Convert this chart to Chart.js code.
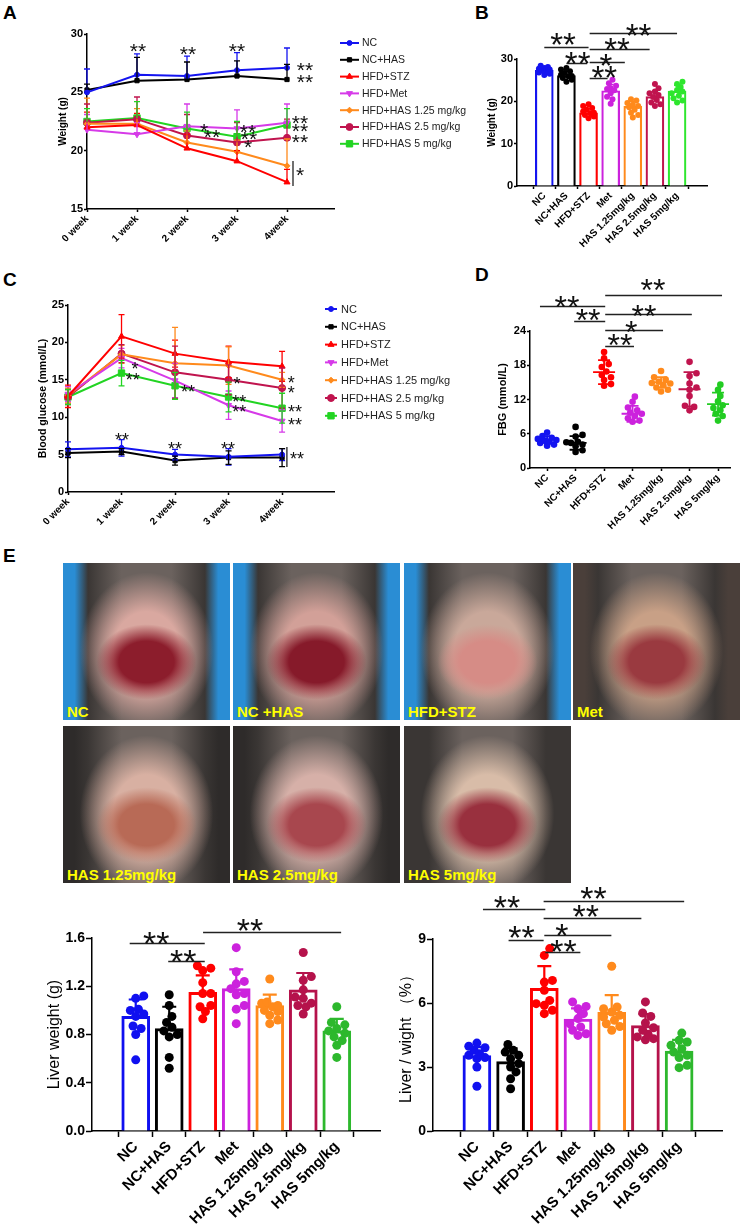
<!DOCTYPE html>
<html>
<head>
<meta charset="utf-8">
<script src="https://cdn.jsdelivr.net/npm/chart.js@4.4.1/dist/chart.umd.min.js"></script>
<style>
  body { margin: 0; background: #fff; }
  #page { position: relative; width: 740px; height: 1226px; overflow: hidden; font-family: "Liberation Sans", Arial, sans-serif; }
  canvas { position: absolute; }
  .tag { position: absolute; font: bold 19px/1 "Liberation Sans", Arial, sans-serif; color: #000; }
  .photo { position: absolute; width: 167px; height: 157px; overflow: hidden;
    background:
      radial-gradient(ellipse 30% 24% at 50% 63%, var(--liver) 0 55%, transparent 100%),
      radial-gradient(ellipse 40% 50% at 50% 56%, var(--open) 0 50%, transparent 100%),
      linear-gradient(90deg, var(--side) 0 7%, #3a3634 15%, #6b625e 35% 65%, #3a3634 85%, var(--side) 93%); }
  .photo span { position: absolute; left: 4px; bottom: 1px; color: #ff0; font: bold 15px/1 "Liberation Sans", Arial, sans-serif; }
</style>
</head>
<body>
<div id="page">
  <div class="tag" style="left:3px;top:2.5px">A</div>
  <div class="tag" style="left:475px;top:2.5px">B</div>
  <div class="tag" style="left:3px;top:269.5px">C</div>
  <div class="tag" style="left:475px;top:264.5px">D</div>
  <div class="tag" style="left:3px;top:545.5px">E</div>

  <div class="photo" style="left:63px;top:563px;--liver:#8c1d2c;--open:#d9a8a0;--side:#2a8dd4"><span>NC</span></div>
  <div class="photo" style="left:233px;top:563px;--liver:#861a2a;--open:#d2a098;--side:#2a8dd4"><span>NC +HAS</span></div>
  <div class="photo" style="left:404px;top:563px;--liver:#d68c86;--open:#c9a89a;--side:#2a8dd4"><span>HFD+STZ</span></div>
  <div class="photo" style="left:573px;top:563px;--liver:#9a3a40;--open:#c8a086;--side:#4a3f3a"><span>Met</span></div>
  <div class="photo" style="left:63px;top:726px;--liver:#b86a56;--open:#d8b0a2;--side:#2e2b2a"><span>HAS 1.25mg/kg</span></div>
  <div class="photo" style="left:233px;top:726px;--liver:#a8474e;--open:#d6b0a8;--side:#2e2b2a"><span>HAS 2.5mg/kg</span></div>
  <div class="photo" style="left:404px;top:726px;--liver:#99303e;--open:#d8bca8;--side:#3a3634"><span>HAS 5mg/kg</span></div>

  <canvas id="chartA" width="480" height="265" style="left:0;top:0"></canvas>
  <canvas id="chartB" width="270" height="265" style="left:470px;top:0"></canvas>
  <canvas id="chartC" width="480" height="280" style="left:0;top:275px"></canvas>
  <canvas id="chartD" width="270" height="280" style="left:470px;top:275px"></canvas>
  <canvas id="chartLW" width="385" height="346" style="left:0;top:880px"></canvas>
  <canvas id="chartLR" width="355" height="346" style="left:385px;top:880px"></canvas>
</div>

<script>
const FF = '"Liberation Sans", Arial, sans-serif';

const weekLabels = ['0 week', '1 week', '2 week', '3 week', '4week'];
const weeks = [0, 1, 2, 3, 4];
const lineNames = ['NC', 'NC+HAS', 'HFD+STZ', 'HFD+Met', 'HFD+HAS 1.25 mg/kg', 'HFD+HAS 2.5 mg/kg', 'HFD+HAS 5 mg/kg'];
const groupLabels = ['NC', 'NC+HAS', 'HFD+STZ', 'Met', 'HAS 1.25mg/kg', 'HAS 2.5mg/kg', 'HAS 5mg/kg'];

// A: body weight (g), mean per week
const wtNC   = [25.0, 26.5, 26.4, 26.9, 27.1];
const wtNCHAS = [25.2, 26.0, 26.1, 26.4, 26.1];
const wtSTZ  = [22.0, 22.2, 20.2, 19.1, 17.3];
const wtMet  = [21.8, 21.4, 22.1, 21.9, 22.4];
const wtH125 = [22.3, 22.3, 20.7, 19.9, 18.7];
const wtH25  = [22.4, 22.7, 21.3, 20.7, 21.1];
const wtH5   = [22.5, 22.8, 21.9, 21.2, 22.2];
// A: SD
const wtSdNC   = [2.0, 1.8, 1.7, 1.5, 1.7];
const wtSdNCHAS = [0.5, 2.0, 1.5, 1.3, 1.3];
const wtSdSTZ  = [1.3, 1.0, 1.2, 0.9, 1.1];
const wtSdMet  = [1.3, 1.0, 1.9, 1.6, 1.6];
const wtSdH125 = [2.2, 1.3, 1.0, 1.0, 2.3];
const wtSdH25  = [1.6, 1.9, 1.8, 1.7, 1.6];
const wtSdH5   = [1.1, 1.4, 1.4, 1.3, 1.4];

// B: body weight (g) per animal at week 4
const bwNC   = [28.4, 28.1, 27.9, 27.7, 27.5, 27.2, 27.1, 26.8, 26.5, 26.2];
const bwNCHAS = [27.9, 27.5, 27.1, 26.7, 26.3, 26.0, 25.9, 25.5, 25.1, 24.6];
const bwSTZ  = [19.3, 18.9, 18.4, 18.0, 17.6, 17.3, 17.2, 16.8, 16.4, 16.0];
const bwMet  = [25.1, 24.3, 23.7, 23.1, 22.9, 22.6, 21.9, 21.1, 20.5, 19.4];
const bwH125 = [20.5, 20.2, 19.6, 19.2, 18.9, 18.6, 18.0, 17.3, 16.8, 16.2];
const bwH25  = [24.1, 23.1, 22.3, 21.9, 21.5, 21.0, 20.3, 19.7, 19.3, 18.9];
const bwH5   = [24.6, 24.1, 23.4, 22.7, 22.3, 21.9, 21.3, 20.7, 20.2, 19.7];
const bwMean = [27.3, 26.1, 17.3, 22.5, 18.8, 21.1, 22.4];
const bwSd   = [0.6, 1.0, 1.0, 1.5, 1.2, 1.3, 1.4];

// C: blood glucose (mmol/L), mean per week
const bgNC   = [5.7, 5.9, 5.0, 4.7, 5.0];
const bgNCHAS = [5.2, 5.4, 4.2, 4.6, 4.6];
const bgSTZ  = [12.8, 20.8, 18.5, 17.4, 16.8];
const bgMet  = [13.1, 17.9, 14.9, 11.6, 9.5];
const bgH125 = [12.9, 18.4, 17.2, 16.9, 15.0];
const bgH25  = [12.7, 18.5, 16.0, 15.0, 13.9];
const bgH5   = [12.7, 15.9, 14.2, 12.7, 11.2];
// C: SD
const bgSdNC   = [1.0, 1.1, 0.7, 1.1, 0.8];
const bgSdNCHAS = [0.6, 0.4, 0.6, 0.9, 1.2];
const bgSdSTZ  = [1.5, 2.9, 1.8, 2.1, 2.0];
const bgSdMet  = [1.0, 1.3, 2.3, 1.9, 1.5];
const bgSdH125 = [1.0, 1.2, 4.8, 2.5, 1.0];
const bgSdH25  = [1.0, 1.2, 3.5, 2.0, 2.7];
const bgSdH5   = [1.0, 1.7, 1.8, 2.0, 2.0];

// D: fasting blood glucose (mmol/L) per animal
const fbgNC   = [6.2, 5.6, 5.3, 5.1, 4.9, 4.8, 4.6, 4.4, 4.1, 3.9];
const fbgNCHAS = [7.2, 5.8, 5.5, 4.6, 4.5, 4.4, 4.1, 3.8, 3.1, 2.8];
const fbgSTZ  = [20.3, 19.2, 18.2, 17.7, 16.9, 16.3, 15.9, 15.4, 14.7, 14.4];
const fbgMet  = [12.5, 11.6, 10.6, 10.1, 9.7, 9.5, 9.1, 8.7, 8.3, 8.1];
const fbgH125 = [17.0, 15.9, 15.5, 15.1, 14.9, 14.8, 14.5, 14.1, 13.7, 13.4];
const fbgH25  = [18.6, 16.6, 16.1, 14.8, 14.1, 13.7, 12.6, 10.9, 10.7, 10.1];
const fbgH5   = [14.6, 13.7, 12.6, 11.7, 11.0, 10.5, 10.1, 9.5, 9.1, 8.3];
const fbgMean = [5.0, 4.4, 16.8, 9.5, 15.0, 13.8, 11.2];
const fbgSd   = [0.6, 1.2, 2.1, 1.4, 0.9, 3.0, 2.0];

// E: liver weight (g) per animal
const lwNC   = [1.12, 1.10, 1.01, 1.00, 0.97, 0.95, 0.87, 0.85, 0.80, 0.59];
const lwNCHAS = [1.13, 1.04, 0.95, 0.90, 0.86, 0.83, 0.80, 0.78, 0.61, 0.52];
const lwSTZ  = [1.37, 1.35, 1.33, 1.23, 1.14, 1.14, 1.04, 1.03, 0.99, 0.93];
const lwMet  = [1.52, 1.32, 1.24, 1.22, 1.18, 1.14, 1.13, 1.04, 1.01, 0.89];
const lwH125 = [1.26, 1.07, 1.06, 1.04, 1.03, 1.00, 0.99, 0.96, 0.92, 0.89];
const lwH25  = [1.48, 1.28, 1.25, 1.17, 1.11, 1.10, 1.06, 1.04, 1.03, 0.97];
const lwH5   = [1.03, 0.90, 0.88, 0.85, 0.83, 0.81, 0.78, 0.75, 0.71, 0.61];
const lwMean = [0.95, 0.85, 1.15, 1.18, 1.04, 1.17, 0.83];
const lwSd   = [0.14, 0.18, 0.14, 0.16, 0.09, 0.14, 0.10];

// E: liver / body weight (%) per animal
const lrNC   = [4.12, 3.97, 3.90, 3.78, 3.62, 3.55, 3.44, 3.39, 3.00, 2.10];
const lrNCHAS = [4.06, 3.78, 3.70, 3.55, 3.39, 3.16, 3.00, 2.77, 2.45, 1.98];
const lrSTZ  = [8.55, 8.23, 7.06, 6.98, 6.60, 6.12, 5.97, 5.89, 5.66, 5.50];
const lrMet  = [6.05, 5.84, 5.73, 5.50, 5.27, 5.03, 4.88, 4.72, 4.56, 4.48];
const lrH125 = [7.72, 5.81, 5.73, 5.58, 5.42, 5.34, 5.19, 5.03, 4.90, 4.72];
const lrH25  = [6.05, 5.53, 5.37, 5.06, 4.84, 4.72, 4.53, 4.41, 4.33, 4.28];
const lrH5   = [4.59, 4.25, 4.17, 4.02, 3.86, 3.70, 3.55, 3.44, 3.08, 2.97];
const lrMean = [3.53, 3.25, 6.69, 5.25, 5.56, 4.94, 3.75];
const lrSd   = [0.40, 0.62, 1.04, 0.50, 0.81, 0.54, 0.52];

// significance marks, in data units: texts [x, y, label], lines [x1, x2, y], vlines [x, y1, y2]
const starsA = [[1.02, 28.97, '**'], [2.02, 28.7, '**'], [3.0, 28.97, '**'], [4.36, 27.34, '**'], [4.36, 26.31, '**'],
  [4.26, 22.8, '**'], [4.26, 22.11, '**'], [4.26, 21.17, '**'], [4.26, 18.34, '*'],
  [2.34, 22.11, '*'], [2.5, 21.6, '**'], [3.22, 22.03, '**'], [3.24, 21.43, '**'], [3.22, 20.74, '*']];
const vlinesA = [[4.12, 19.11, 16.97]];
const starsC = [[1.01, 7.49, '**'], [2.0, 6.28, '**'], [2.99, 6.28, '**'], [4.28, 4.95, '**'],
  [1.25, 16.98, '*'], [1.21, 15.5, '**'], [2.24, 13.9, '**'], [3.16, 14.97, '*'], [3.2, 12.57, '**'], [3.2, 11.23, '**'],
  [4.17, 15.1, '*'], [4.17, 13.77, '*'], [4.24, 11.23, '**'], [4.24, 9.49, '**']];
const vlinesC = [[4.09, 6.02, 3.34]];
const starsB = [[0.85, 34.96, '**'], [1.51, 30.7, '**'], [4.26, 37.3, '**'], [3.29, 33.8, '**'], [2.79, 30.2, '*'], [2.71, 27.2, '**']];
const linesB = [[0, 2, 32.84], [1, 1.94, 29.06], [2.05, 6, 36.14], [2.05, 4.76, 32.37], [2.05, 3.64, 29.3], [2.05, 2.86, 25.5]];
const starsD = [[0.7, 29.4, '**'], [1.44, 27.15, '**'], [3.72, 32.4, '**'], [3.4, 27.86, '**'], [2.95, 25.05, '*'], [2.56, 22.78, '**']];
const linesD = [[-0.25, 2.04, 28.4], [0.95, 2.04, 25.75], [2.04, 6.14, 30.3], [2.04, 5.08, 26.98], [2.04, 4.07, 24.18], [2.04, 3.05, 21.37]];
const starsLW = [[0.61, 1.615, '**'], [1.42, 1.466, '**'], [3.41, 1.723, '**']];
const linesLW = [[-0.18, 2.06, 1.557], [0.97, 2.06, 1.408], [2.01, 6.13, 1.648]];
const starsLR = [[0.89, 10.83, '**'], [3.46, 11.25, '**'], [3.23, 10.41, '**'], [1.32, 9.42, '**'], [2.52, 9.52, '*'], [2.57, 8.77, '**']];
const linesLR = [[0.18, 2.03, 10.41], [1.98, 6.15, 10.78], [1.98, 4.88, 9.99], [0.94, 1.98, 8.95], [2.0, 3.99, 9.19], [2.03, 3.07, 8.39]];

// series styling
const palette = ['#1414F0', '#000000', '#FF0000', '#D63AE8', '#FF8A1C', '#C0144E', '#22D422'];
const pointStyles = ['circle', 'rect', 'triangle', 'triangle', 'rectRot', 'circle', 'rect'];
const pointRot = [0, 0, 0, 180, 0, 0, 0];
const pointSize = [2.5, 3, 3.5, 3.5, 3, 3.5, 4.5];
const paletteB = ['#1414F0', '#000000', '#FF0000', '#CC22DD', '#FF8A1C', '#C0144E', '#2EE62E'];
const paletteD = ['#1414F0', '#000000', '#FF0000', '#CC22DD', '#FF8A1C', '#C0144E', '#22CC22'];
const paletteE = ['#1010F0', '#000000', '#FF0000', '#CC22DD', '#FF8A1C', '#B5124B', '#2DB82D'];

// error bars drawn from a dataset's `sd` array
const errorBars = {
  id: 'errorBars',
  afterDatasetsDraw(chart) {
    const ctx = chart.ctx;
    const yS = chart.scales.y;
    chart.data.datasets.forEach((ds, di) => {
      if (!ds.sd) return;
      const meta = chart.getDatasetMeta(di);
      ctx.save();
      ctx.lineWidth = ds.errWidth || 1.5;
      meta.data.forEach((el, i) => {
        const m = ds.data[i].y, s = ds.sd[i];
        const c = ds.errColor || ds.borderColor;
        ctx.strokeStyle = Array.isArray(c) ? c[i] : c;
        const x = el.x;
        const top = yS.getPixelForValue(m + s);
        const bot = yS.getPixelForValue(ds.errBoth ? m - s : m);
        const cap = ds.capHalf || 3;
        ctx.beginPath();
        ctx.moveTo(x, top); ctx.lineTo(x, bot);
        ctx.moveTo(x - cap, top); ctx.lineTo(x + cap, top);
        if (ds.errBoth) { ctx.moveTo(x - cap, bot); ctx.lineTo(x + cap, bot); }
        if (ds.meanHalf) {
          const my = yS.getPixelForValue(m);
          ctx.moveTo(x - ds.meanHalf, my); ctx.lineTo(x + ds.meanHalf, my);
        }
        ctx.stroke();
      });
      ctx.restore();
    });
  }
};

// stars, brackets
const marks = {
  id: 'marks',
  afterDraw(chart, args, opts) {
    if (!opts.size) return;
    const ctx = chart.ctx, xS = chart.scales.x, yS = chart.scales.y;
    ctx.save();
    ctx.strokeStyle = '#222';
    ctx.lineWidth = opts.lineWidth || 1.3;
    ctx.beginPath();
    (opts.lines || []).forEach(([x1, x2, y]) => {
      const py = Math.round(yS.getPixelForValue(y)) + 0.5;
      ctx.moveTo(xS.getPixelForValue(x1), py); ctx.lineTo(xS.getPixelForValue(x2), py);
    });
    (opts.vlines || []).forEach(([x, y1, y2]) => {
      const px = xS.getPixelForValue(x);
      ctx.moveTo(px, yS.getPixelForValue(y1)); ctx.lineTo(px, yS.getPixelForValue(y2));
    });
    ctx.stroke();
    ctx.fillStyle = '#111';
    ctx.font = opts.size + 'px ' + FF;
    ctx.textAlign = 'center';
    ctx.textBaseline = 'alphabetic';
    (opts.texts || []).forEach(([x, y, t]) => {
      ctx.fillText(t, xS.getPixelForValue(x), yS.getPixelForValue(y) + opts.size * 0.56);
    });
    ctx.restore();
  }
};

// legend with line + marker, as in the original
const lineLegend = {
  id: 'lineLegend',
  afterDraw(chart, args, opts) {
    if (!opts.x) return;
    const ctx = chart.ctx;
    chart.data.datasets.forEach((ds, i) => {
      const y = opts.y + i * opts.dy;
      ctx.save();
      ctx.strokeStyle = ds.borderColor;
      ctx.fillStyle = ds.borderColor;
      ctx.lineWidth = ds.borderWidth;
      ctx.beginPath();
      ctx.moveTo(opts.x, y); ctx.lineTo(opts.x + opts.len, y);
      ctx.stroke();
      ctx.lineWidth = 1;
      if (Chart.helpers && Chart.helpers.drawPoint) {
        Chart.helpers.drawPoint(ctx, {pointStyle: ds.pointStyle, radius: ds.pointRadius, rotation: ds.pointRotation, borderWidth: 1}, opts.x + opts.len / 2, y);
      } else {
        ctx.beginPath(); ctx.arc(opts.x + opts.len / 2, y, ds.pointRadius, 0, Math.PI * 2); ctx.fill();
      }
      ctx.fillStyle = '#222';
      ctx.font = opts.font + 'px ' + FF;
      ctx.textBaseline = 'middle';
      ctx.fillText(ds.label, opts.x + opts.len + opts.gap, y + 0.5);
      ctx.restore();
    });
  }
};

// GraphPad-like dot arrangement (deterministic beeswarm)
function swarm(groups, colors, pxY, pxX, r, limit) {
  const pts = [], cols = [];
  groups.forEach((vals, g) => {
    const placed = [];
    vals.slice().sort((a, b) => a - b).forEach(v => {
      const py = v * pxY;
      let best = 0, bestD = -1;
      for (let k = 0; k < 60; k++) {
        const off = (k % 2 ? 1 : -1) * Math.ceil(k / 2) * r * 0.7;
        if (Math.abs(off) > limit) break;
        const d = placed.reduce((mn, p) => Math.min(mn, Math.hypot(p.ox - off, p.py - py)), 1e9);
        if (d >= 1.7 * r) { best = off; bestD = d; break; }
        if (d > bestD) { bestD = d; best = off; }
      }
      placed.push({ox: best, py});
      pts.push({x: g + best / pxX, y: v});
      cols.push(colors[g]);
    });
  });
  return {pts, cols};
}

function axisX(min, max, labels, xH, size, tickLen) {
  return {
    type: 'linear', min, max,
    afterBuildTicks: s => { s.ticks = s.ticks.filter(t => Number.isInteger(t.value) && t.value >= 0 && t.value < labels.length); },
    ticks: {stepSize: 1, autoSkip: false, includeBounds: false, minRotation: 45, maxRotation: 45, padding: 1,
      color: '#000', font: {family: FF, size, weight: 'bold'}, callback: v => labels[v]},
    grid: {drawOnChartArea: false, drawTicks: true, tickLength: tickLen, tickWidth: 1.5, tickColor: '#000'},
    border: {display: true, color: '#000', width: 1.5},
    afterFit: s => { s.height = xH; }
  };
}

function axisY(min, max, step, yW, size, tickLen, title, titleSize, titleWeight, titlePad, digits) {
  return {
    type: 'linear', min, max,
    ticks: {stepSize: step, padding: 1, color: '#000', font: {family: FF, size, weight: 'bold'},
      callback: v => digits ? v.toFixed(digits) : v},
    grid: {drawOnChartArea: false, drawTicks: true, tickLength: tickLen, tickWidth: 1.5, tickColor: '#000'},
    border: {display: true, color: '#000', width: 1.5},
    title: {display: true, text: title, color: '#000', font: {family: FF, size: titleSize, weight: titleWeight},
      padding: {top: titlePad, bottom: 0}},
    afterFit: s => { s.width = yW; }
  };
}

function lineSets(means, sds, both) {
  return means.map((m, k) => ({
    label: lineNames[k],
    data: weeks.map((w, i) => ({x: w, y: m[i]})),
    sd: sds[k], errBoth: both, capHalf: 3, errWidth: 1.3,
    borderColor: palette[k], backgroundColor: palette[k],
    pointBackgroundColor: palette[k], pointBorderColor: palette[k],
    borderWidth: 2, pointStyle: pointStyles[k], pointRadius: pointSize[k], pointRotation: pointRot[k],
    pointBorderWidth: 1, tension: 0, clip: false
  }));
}

function barSets(groups, means, sds, colors, dot, thick, bw, capHalf, errWidth, pxY, pxX, limit) {
  const sw = swarm(groups, colors, pxY, pxX, dot, limit);
  return [
    {type: 'scatter', order: 0, data: sw.pts, pointRadius: dot, pointBackgroundColor: sw.cols,
      pointBorderWidth: 0, clip: false},
    {type: 'bar', order: 1, data: means.map((m, i) => ({x: i, y: m})), backgroundColor: '#fff',
      borderColor: colors, borderWidth: bw, barThickness: thick, sd: sds, capHalf, errWidth}
  ];
}

function makeChart(id, type, datasets, x, y, padding, extra) {
  return new Chart(document.getElementById(id), {
    type,
    data: {datasets},
    options: {
      responsive: false, animation: false, events: [],
      layout: {padding},
      scales: {x, y},
      plugins: Object.assign({legend: {display: false}, tooltip: {enabled: false}}, extra)
    },
    plugins: [errorBars, marks, lineLegend]
  });
}

// A
makeChart('chartA', 'line',
  lineSets([wtNC, wtNCHAS, wtSTZ, wtMet, wtH125, wtH25, wtH5],
           [wtSdNC, wtSdNCHAS, wtSdSTZ, wtSdMet, wtSdH125, wtSdH25, wtSdH5], false),
  axisX(0, 4.94, weekLabels, 56, 10, 3),
  axisY(15, 30, 5, 87, 11, 3, 'Weight (g)', 10, 'bold', 57),
  {top: 34, right: 146, left: 0, bottom: 0},
  {marks: {size: 21, texts: starsA, vlines: vlinesA},
   lineLegend: {x: 340, y: 43, dy: 16.8, len: 19, gap: 3, font: 10.5}});

// B
makeChart('chartB', 'bar',
  barSets([bwNC, bwNCHAS, bwSTZ, bwMet, bwH125, bwH25, bwH5], bwMean, bwSd, paletteB,
          3, 18, 2.2, 3, 1.5, 127 / 30, 25.8, 8),
  axisX(-0.62, 6.74, groupLabels, 79, 10, 3),
  axisY(0, 30, 10, 47, 11, 3, 'Weight (g)', 10, 'bold', 16),
  {top: 59, right: 33, left: 0, bottom: 0},
  {marks: {size: 33, texts: starsB, lines: linesB}});

// C
makeChart('chartC', 'line',
  lineSets([bgNC, bgNCHAS, bgSTZ, bgMet, bgH125, bgH25, bgH5],
           [bgSdNC, bgSdNCHAS, bgSdSTZ, bgSdMet, bgSdH125, bgSdH25, bgSdH5], true),
  axisX(0, 4.97, weekLabels, 63, 10, 3),
  axisY(0, 25, 5, 68, 11, 3, 'Blood glucose (mmol/L)', 10.5, 'bold', 37),
  {top: 30, right: 146, left: 0, bottom: 0},
  {marks: {size: 18, texts: starsC, vlines: vlinesC},
   lineLegend: {x: 325, y: 34, dy: 17.8, len: 12, gap: 4, font: 11}});

// D
const swD = swarm([fbgNC, fbgNCHAS, fbgSTZ, fbgMet, fbgH125, fbgH25, fbgH5], paletteD, 137 / 24, 28.5, 3.3, 11);
makeChart('chartD', 'scatter',
  [{data: swD.pts, pointRadius: 3.3, pointBackgroundColor: swD.cols, pointBorderWidth: 0, clip: false},
   {data: fbgMean.map((m, i) => ({x: i, y: m})), pointRadius: 0, borderColor: paletteD,
    sd: fbgSd, errBoth: true, capHalf: 6, meanHalf: 11, errWidth: 1.8}],
  axisX(-0.6, 6.42, groupLabels, 87, 10, 3),
  axisY(0, 24, 6, 60, 11, 3, 'FBG (mmol/L)', 11, 'bold', 26),
  {top: 56, right: 10, left: 0, bottom: 0},
  {marks: {size: 32, texts: starsD, lines: linesD}});

// E: liver weight
makeChart('chartLW', 'bar',
  barSets([lwNC, lwNCHAS, lwSTZ, lwMet, lwH125, lwH25, lwH5], lwMean, lwSd, paletteE,
          4.5, 28, 3, 7, 2.2, 120.75, 39.3, 12),
  axisX(-0.69, 6.69, groupLabels, 95, 15, 6),
  axisY(0, 1.6, 0.4, 92, 14, 6, 'Liver weight (g)', 16, 'normal', 44.5, 1),
  {top: 58, right: 3, left: 0, bottom: 0},
  {marks: {size: 34, texts: starsLW, lines: linesLW, lineWidth: 1.6}});

// E: liver / body weight
makeChart('chartLR', 'bar',
  barSets([lrNC, lrNCHAS, lrSTZ, lrMet, lrH125, lrH25, lrH5], lrMean, lrSd, paletteE,
          4.5, 28, 3, 7, 2.2, 21.33, 39.3, 12),
  axisX(-0.69, 6.66, groupLabels, 95, 15, 6),
  axisY(0, 9, 3, 48, 14, 6, 'Liver / wight \uFF08%\uFF09', 16, 'normal', 11.5),
  {top: 59, right: 18, left: 0, bottom: 0},
  {marks: {size: 34, texts: starsLR, lines: linesLR, lineWidth: 1.6}});
</script>
</body>
</html>
